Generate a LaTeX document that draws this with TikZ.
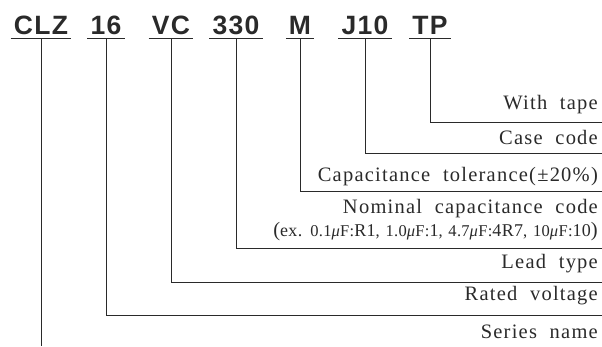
\documentclass[tikz,border=0pt]{standalone}
\usepackage{fontspec}
\setmainfont{Liberation Serif}
\newfontfamily\codefont[LetterSpace=5]{Liberation Sans}
\newfontfamily\labfont[LetterSpace=6,WordSpace=2]{Liberation Serif}
\newfontfamily\exfont[LetterSpace=2,WordSpace=1.3]{Liberation Serif}
\definecolor{ink}{HTML}{2A2A2A}
\newcommand{\exs}[1]{{\exfont\fontsize{16.5}{16}\selectfont #1}}
\newcommand{\exb}[1]{{\exfont\fontsize{18}{18}\selectfont #1}}
\begin{document}
\begin{tikzpicture}[x=1pt,y=-1pt,
  code/.style={font=\codefont\bfseries\fontsize{26.5}{26}\selectfont, text=ink, anchor=south, inner xsep=3pt, inner ysep=3.5pt, text depth=0pt},
  lab/.style={font=\labfont\fontsize{20.5}{20}\selectfont, text=ink, anchor=base east, inner sep=0pt},
  ln/.style={draw=ink, line width=0.9pt}]
\useasboundingbox (0,0) rectangle (602,346);
% codes
\node[code] (clz) at (41,38.5) {CLZ};
\node[code] (v16) at (106,38.5) {16};
\node[code] (vc)  at (171,38.5) {VC};
\node[code] (c330) at (236,38.5) {330};
\node[code] (m)   at (300,38.5) {M};
\node[code] (j10) at (365,38.5) {J10};
\node[code] (tp)  at (430,38.5) {TP};
\foreach \n in {clz,v16,vc,c330,m,j10,tp}
  \draw[ln] (\n.south west) -- (\n.south east);
% right ends
\coordinate (etp) at (602,122);
\coordinate (ej10) at (602,153);
\coordinate (em) at (602,191);
\coordinate (e330) at (602,248);
\coordinate (evc) at (602,282);
\coordinate (e16) at (602,315);
\coordinate (eclz) at (41,346);
% labels
\node[lab] (ltp) at (598,109) {With tape};
\node[lab] (lj10) at (598,144) {Case code};
\node[lab] (lm) at (598,181) {Capacitance tolerance(±20\%)};
\node[lab] (l330) at (598,213) {Nominal capacitance code};
\node[lab] (lex) at (598,236) {(\exb{ex. }\exs{0.1\textit{μ}F:}\exb{R1}\exs{, 1.0\textit{μ}F:}\exb{1}\exs{, 4.7\textit{μ}F:}\exb{4R7}\exs{, 10\textit{μ}F:}\exb{10})};
\node[lab] (lvc) at (598,268) {Lead type};
\node[lab] (l16) at (598,300) {Rated voltage};
\node[lab] (lclz) at (598,338) {Series name};
% connectors
\draw[ln] (tp.south) |- (etp);
\draw[ln] (j10.south) |- (ej10);
\draw[ln] (m.south) |- (em);
\draw[ln] (c330.south) |- (e330);
\draw[ln] (vc.south) |- (evc);
\draw[ln] (v16.south) |- (e16);
\draw[ln] (clz.south) -- (eclz);
\end{tikzpicture}
\end{document}
